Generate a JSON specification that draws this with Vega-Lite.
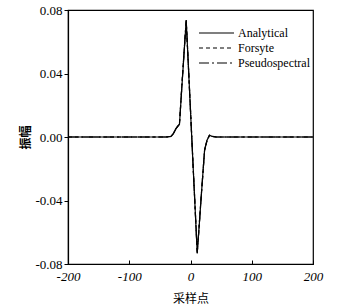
{
  "$schema": "https://vega.github.io/schema/vega-lite/v6.json",
  "width": 245,
  "height": 254,
  "autosize": {"type": "none"},
  "padding": {"left": 68, "top": 10, "right": 33, "bottom": 44},
  "background": "white",
  "config": {
    "view": {"stroke": "black", "strokeWidth": 1.2},
    "axis": {"grid": false, "domainColor": "black", "tickColor": "black", "labelColor": "black", "titleColor": "black", "domainWidth": 1.2, "tickWidth": 1}
  },
  "data": {
    "values": [
      {"x": -200, "y": 0, "s": "Analytical"},
      {"x": -40, "y": 0, "s": "Analytical"},
      {"x": -32, "y": 0.0003, "s": "Analytical"},
      {"x": -28, "y": 0.002, "s": "Analytical"},
      {"x": -24, "y": 0.005, "s": "Analytical"},
      {"x": -18, "y": 0.008, "s": "Analytical"},
      {"x": -15, "y": 0.026, "s": "Analytical"},
      {"x": -11, "y": 0.05, "s": "Analytical"},
      {"x": -7, "y": 0.0737, "s": "Analytical"},
      {"x": -4, "y": 0.049, "s": "Analytical"},
      {"x": 0, "y": 0.0165, "s": "Analytical"},
      {"x": 4, "y": -0.0163, "s": "Analytical"},
      {"x": 8, "y": -0.0488, "s": "Analytical"},
      {"x": 11, "y": -0.0733, "s": "Analytical"},
      {"x": 14, "y": -0.057, "s": "Analytical"},
      {"x": 18, "y": -0.035, "s": "Analytical"},
      {"x": 23, "y": -0.008, "s": "Analytical"},
      {"x": 27, "y": -0.002, "s": "Analytical"},
      {"x": 31, "y": 0.001, "s": "Analytical"},
      {"x": 36, "y": 0.0003, "s": "Analytical"},
      {"x": 42, "y": 0, "s": "Analytical"},
      {"x": 200, "y": 0, "s": "Analytical"},
      {"x": -200, "y": 0, "s": "Forsyte"},
      {"x": -40, "y": 0, "s": "Forsyte"},
      {"x": -32, "y": 0.0004, "s": "Forsyte"},
      {"x": -28, "y": 0.0022, "s": "Forsyte"},
      {"x": -24, "y": 0.0052, "s": "Forsyte"},
      {"x": -18, "y": 0.0085, "s": "Forsyte"},
      {"x": -15, "y": 0.027, "s": "Forsyte"},
      {"x": -11, "y": 0.051, "s": "Forsyte"},
      {"x": -7, "y": 0.073, "s": "Forsyte"},
      {"x": -4, "y": 0.0495, "s": "Forsyte"},
      {"x": 0, "y": 0.017, "s": "Forsyte"},
      {"x": 4, "y": -0.016, "s": "Forsyte"},
      {"x": 8, "y": -0.048, "s": "Forsyte"},
      {"x": 11, "y": -0.0725, "s": "Forsyte"},
      {"x": 14, "y": -0.0565, "s": "Forsyte"},
      {"x": 18, "y": -0.0345, "s": "Forsyte"},
      {"x": 23, "y": -0.0085, "s": "Forsyte"},
      {"x": 27, "y": -0.0022, "s": "Forsyte"},
      {"x": 31, "y": 0.0012, "s": "Forsyte"},
      {"x": 36, "y": 0.0004, "s": "Forsyte"},
      {"x": 42, "y": 0, "s": "Forsyte"},
      {"x": 200, "y": 0, "s": "Forsyte"},
      {"x": -200, "y": 0, "s": "Pseudospectral"},
      {"x": -40, "y": 0, "s": "Pseudospectral"},
      {"x": -32, "y": 0.0003, "s": "Pseudospectral"},
      {"x": -28, "y": 0.0021, "s": "Pseudospectral"},
      {"x": -24, "y": 0.0051, "s": "Pseudospectral"},
      {"x": -18, "y": 0.0082, "s": "Pseudospectral"},
      {"x": -15, "y": 0.0265, "s": "Pseudospectral"},
      {"x": -11, "y": 0.0505, "s": "Pseudospectral"},
      {"x": -7, "y": 0.0735, "s": "Pseudospectral"},
      {"x": -4, "y": 0.0492, "s": "Pseudospectral"},
      {"x": 0, "y": 0.0167, "s": "Pseudospectral"},
      {"x": 4, "y": -0.0162, "s": "Pseudospectral"},
      {"x": 8, "y": -0.0485, "s": "Pseudospectral"},
      {"x": 11, "y": -0.073, "s": "Pseudospectral"},
      {"x": 14, "y": -0.0568, "s": "Pseudospectral"},
      {"x": 18, "y": -0.0348, "s": "Pseudospectral"},
      {"x": 23, "y": -0.0082, "s": "Pseudospectral"},
      {"x": 27, "y": -0.0021, "s": "Pseudospectral"},
      {"x": 31, "y": 0.0011, "s": "Pseudospectral"},
      {"x": 36, "y": 0.0003, "s": "Pseudospectral"},
      {"x": 42, "y": 0, "s": "Pseudospectral"},
      {"x": 200, "y": 0, "s": "Pseudospectral"}
    ]
  },
  "mark": {"type": "line", "color": "black", "strokeWidth": 1.2},
  "encoding": {
    "x": {
      "field": "x", "type": "quantitative",
      "scale": {"domain": [-200, 200], "nice": false},
      "axis": {
        "values": [-200, -100, 0, 100, 200],
        "format": "d",
        "labelExpr": "replace(datum.label, '\u2212', '-')",
        "tickSize": -4,
        "labelPadding": 10,
        "labelFont": "Liberation Serif", "labelFontSize": 13, "labelFontStyle": "italic",
        "labelFlush": false,
        "title": "采样点", "titleFont": "Noto Sans CJK SC", "titleFontSize": 12, "titleFontWeight": "normal",
        "titleY": 38, "titleBaseline": "alphabetic"
      }
    },
    "y": {
      "field": "y", "type": "quantitative",
      "scale": {"domain": [-0.08, 0.08], "nice": false, "zero": false},
      "axis": {
        "values": [-0.08, -0.04, 0, 0.04, 0.08],
        "format": ".2f",
        "labelExpr": "replace(datum.label, '\u2212', '-')",
        "tickSize": 4,
        "labelPadding": 2,
        "labelFont": "Liberation Serif", "labelFontSize": 13,
        "labelFlush": false,
        "title": "振幅", "titleFont": "Noto Sans CJK SC", "titleFontSize": 12, "titleFontWeight": "bold",
        "titleX": -43, "titleY": 127, "titleAngle": -90, "titleBaseline": "middle", "titleAlign": "center"
      }
    },
    "strokeDash": {
      "field": "s", "type": "nominal",
      "scale": {"domain": ["Analytical", "Forsyte", "Pseudospectral"], "range": [[1, 0], [4, 3], [10, 3, 2, 3]]},
      "legend": {
        "title": null,
        "orient": "none",
        "legendX": 130,
        "legendY": 16,
        "symbolType": "stroke",
        "symbolSize": 1225,
        "clipHeight": 14,
        "symbolStrokeColor": "black",
        "symbolStrokeWidth": 1.2,
        "labelFont": "Liberation Serif",
        "labelFontSize": 12,
        "labelColor": "black",
        "labelOffset": 3,
        "rowPadding": 1
      }
    }
  }
}
